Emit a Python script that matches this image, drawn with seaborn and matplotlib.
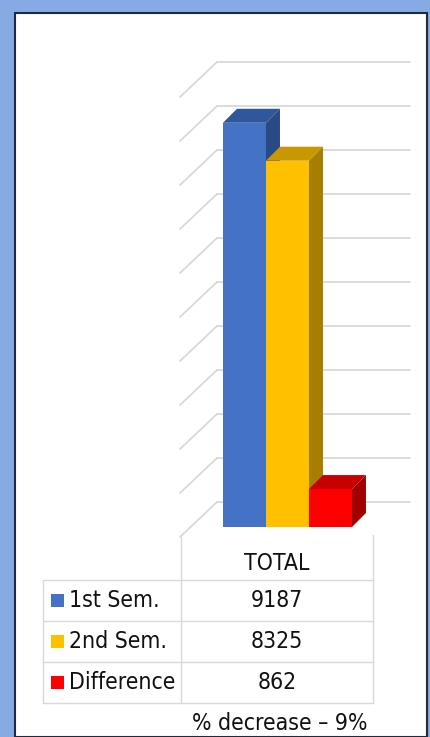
import numpy as np
import pandas as pd
import seaborn as sns
import matplotlib.pyplot as plt
import matplotlib.transforms as mtransforms
from matplotlib import font_manager
from matplotlib.patches import Polygon, Rectangle
from matplotlib.lines import Line2D

# data
series = ["1st Sem.", "2nd Sem.", "Difference"]
totals = [9187, 8325, 862]
column_label = "TOTAL"
front_colors = ["#4472c4", "#ffc000", "#ff0000"]
top_colors = ["#30569c", "#c99700", "#c80000"]
side_colors = ["#2a4a86", "#a87e00", "#a20000"]
grid_values = list(range(0, 10001, 1000))

df = pd.DataFrame({"series": series, "total": totals})

sns.set_style("white")
plt.rcParams["font.family"] = ["DejaVu Sans"]

# pick a narrow font if one is installed
cands = [f for f in font_manager.fontManager.ttflist
         if f.style == "normal" and f.weight in (400, "normal", "regular")
         and ("Narrow" in f.name or "ondensed" in f.fname or f.stretch in ("condensed", "semi-condensed", 600, 700))]
cands.sort(key=lambda f: (0 if "Liberation" in f.name else 1 if "DejaVu" in f.name else 2))
if cands:
    font_kw = dict(fontproperties=font_manager.FontProperties(fname=cands[0].fname, size=16.5))
else:
    font_kw = dict(fontsize=15)

W, H = 431, 737
fig = plt.figure(figsize=(W / 100, H / 100), dpi=100, facecolor="#86abe4")

def fx(px):
    return px / W

def fy(py):  # pixel from top -> figure fraction
    return 1 - py / H

# white panel with dark border
fig.patches.append(Rectangle((fx(15), 0), fx(427 - 15), fy(13), transform=fig.transFigure,
                             facecolor="white", edgecolor="#1c2a44", lw=1.5, zorder=-5))

# chart axes: value 0 at y=527px, 10000 at 87px
ax = fig.add_axes([fx(180), fy(527), fx(230), 440 / H])

sns.barplot(data=df, x="series", y="total", hue="series", palette=front_colors,
            saturation=1, width=1.0, legend=False, ax=ax, linewidth=0)
ax.set_xlim(-1.5, 3.85)
ax.set_ylim(0, 10000)
ax.axis("off")
ax.patch.set_alpha(0)

# back wall + side wall gridlines
back = mtransforms.offset_copy(ax.transData, fig=fig, x=37, y=25, units="dots")
front = mtransforms.offset_copy(ax.transData, fig=fig, x=0, y=-10, units="dots")
x_left = -1.5
x_right = 3.85 - 37 / 43
for v in grid_values:
    ax.plot([x_left, x_right], [v, v], color="#d9d9d9", lw=1.3, transform=back, clip_on=False, zorder=1)
    p_back = back.transform((x_left, v))
    p_front = front.transform((x_left, v))
    ax.add_line(Line2D([p_back[0], p_front[0]], [p_back[1], p_front[1]], color="#d9d9d9", lw=1.3,
                       transform=mtransforms.IdentityTransform(), zorder=1, clip_on=False))

# 3d faces for each bar
d = 14
for i, bar in enumerate(ax.patches[:len(totals)]):
    x0, x1 = bar.get_x(), bar.get_x() + bar.get_width()
    h = bar.get_height()
    (px0, py0) = ax.transData.transform((x0, 0))
    (px1, py1) = ax.transData.transform((x1, h))
    bar.set_zorder(3 + 3 * i)
    top = Polygon([(px0, py1), (px1, py1), (px1 + d, py1 + d), (px0 + d, py1 + d)],
                  closed=True, facecolor=top_colors[i], edgecolor="none", clip_on=False,
                  transform=mtransforms.IdentityTransform(), zorder=4 + 3 * i)
    side = Polygon([(px1, py0), (px1, py1), (px1 + d, py1 + d), (px1 + d, py0 + d)],
                   closed=True, facecolor=side_colors[i], edgecolor="none", clip_on=False,
                   transform=mtransforms.IdentityTransform(), zorder=4 + 3 * i)
    ax.add_patch(side)
    ax.add_patch(top)

# data table under the chart
line_kw = dict(color="#d9d9d9", lw=1.0, transform=fig.transFigure)
rows = [580, 621, 662, 703]
xl, xm, xr = 43, 181, 373
fig.add_artist(Line2D([fx(xm), fx(xm)], [fy(537), fy(703)], **line_kw))
fig.add_artist(Line2D([fx(xr), fx(xr)], [fy(535), fy(703)], **line_kw))
fig.add_artist(Line2D([fx(xl), fx(xl)], [fy(580), fy(703)], **line_kw))
for r in rows:
    fig.add_artist(Line2D([fx(xl), fx(xr)], [fy(r), fy(r)], **line_kw))

fig.text(fx((xm + xr) / 2), fy(563), column_label, ha="center", va="center", color="#111111", **font_kw)
for i, (name, val) in enumerate(zip(series, totals)):
    yc = (rows[i] + rows[i + 1]) / 2
    fig.patches.append(Rectangle((fx(51), fy(yc + 6.5)), fx(13), 13 / H, transform=fig.transFigure,
                                 facecolor=front_colors[i], edgecolor="none"))
    fig.text(fx(69), fy(yc), name, ha="left", va="center", color="#111111", **font_kw)
    fig.text(fx((xm + xr) / 2), fy(yc), f"{val}", ha="center", va="center", color="#111111", **font_kw)

pct = round(totals[2] / totals[0] * 100)
fig.text(fx(280), fy(723), f"% decrease \u2013 {pct}%", ha="center", va="center", color="#111111", **font_kw)

fig.savefig("out.png", dpi=100, facecolor=fig.get_facecolor())
